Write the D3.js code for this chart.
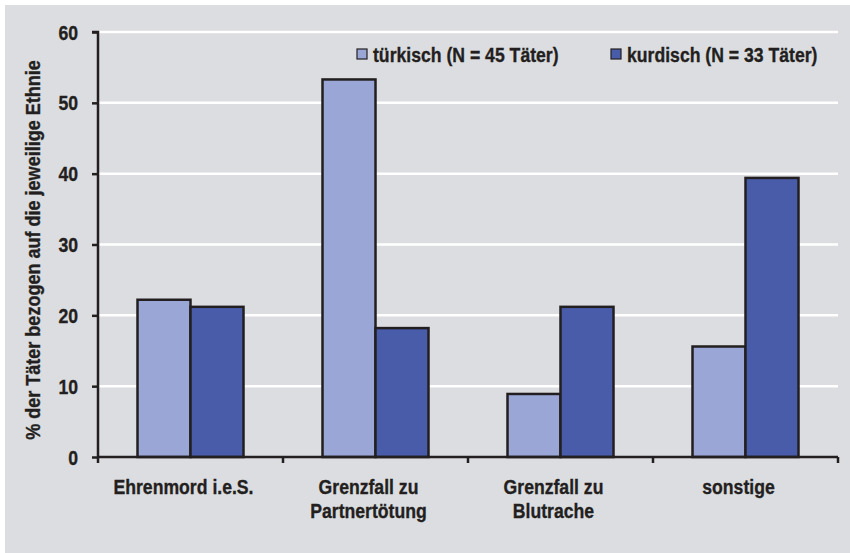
<!DOCTYPE html>
<html><head><meta charset="utf-8">
<script src="https://cdn.jsdelivr.net/npm/d3@7"></script>
<style>
html,body{margin:0;padding:0;background:#fff;}
svg{display:block;}
text{font-family:"Liberation Sans",Arial,sans-serif;font-weight:bold;fill:#231f20;stroke:#231f20;stroke-width:0.35px;}
</style></head>
<body>
<svg id="c" width="850" height="553"></svg>
<script>
const categories = [["Ehrenmord i.e.S."], ["Grenzfall zu", "Partnertötung"], ["Grenzfall zu", "Blutrache"], ["sonstige"]];
const seriesNames = ["türkisch (N = 45 Täter)", "kurdisch (N = 33 Täter)"];
const tuerkisch = [22.2, 53.3, 8.9, 15.6];
const kurdisch = [21.2, 18.2, 21.2, 39.4];
const yTicks = [0, 10, 20, 30, 40, 50, 60];
const colors = ["#99a6d6", "#485ca9"];

const SX = 0.86; // condensed look
const FS = 20.5;

const svg = d3.select("#c");
svg.append("rect").attr("x",5).attr("y",5).attr("width",845).attr("height",548).attr("fill","#dcdde0");

const m = {left:98, right:838, top:32, bottom:457};
const x = d3.scaleBand().domain(d3.range(categories.length)).range([m.left, m.right]).paddingInner(0).paddingOuter(0);
const y = d3.scaleLinear().domain([0,60]).range([m.bottom, m.top]);
const barW = 53;
const xs = d3.scaleBand().domain([0,1]).range([0, 2*barW]);

function ctext(px, py, str, anchor, fs, sx) {
  const g = svg.append("g").attr("transform", `translate(${px},${py}) scale(${sx||SX},1)`);
  return g.append("text").attr("text-anchor", anchor||"start").attr("font-size", fs||FS).text(str);
}

// gridlines
svg.append("g").selectAll("line").data(yTicks.filter(d=>d>0)).join("line")
  .attr("x1", m.left).attr("x2", m.right)
  .attr("y1", d=>y(d)).attr("y2", d=>y(d))
  .attr("stroke","#fff").attr("stroke-width",2.5);

// bars
const series = [tuerkisch, kurdisch];
series.forEach((vals, si) => {
  svg.append("g").selectAll("rect").data(vals).join("rect")
    .attr("x", (d,i)=> x(i) + (x.bandwidth()-2*barW)/2 + xs(si))
    .attr("y", d=>y(d))
    .attr("width", barW)
    .attr("height", d=>y(0)-y(d))
    .attr("fill", colors[si])
    .attr("stroke","#231f20").attr("stroke-width",2.5);
});

// y axis
const ya = svg.append("g").attr("transform",`translate(${m.left},0)`)
  .call(d3.axisLeft(y).tickValues(yTicks).tickSize(6).tickPadding(10));
ya.select(".domain").attr("stroke","#231f20").attr("stroke-width",2.5).attr("d",`M-6,${y(60)}H0V${y(0)}`);
ya.selectAll(".tick line").attr("stroke","#231f20").attr("stroke-width",2.5);
ya.selectAll(".tick text")
  .attr("font-size",FS).attr("fill","#231f20")
  .attr("x", -20/SX).attr("dy", null).attr("y", 7)
  .attr("transform", `scale(${SX},1)`)
  .style("font-family",'"Liberation Sans",Arial,sans-serif').style("font-weight","bold")
  .style("stroke","#231f20").style("stroke-width","0.35px");

// x axis
const xa = svg.append("g").attr("transform",`translate(0,${m.bottom})`);
xa.append("line").attr("x1",m.left).attr("x2",m.right).attr("y1",0).attr("y2",0).attr("stroke","#231f20").attr("stroke-width",2.5);
const bounds = d3.range(categories.length+1).map(i => i<categories.length ? x(i) : x(i-1)+x.bandwidth());
xa.selectAll("line.t").data(bounds).join("line").attr("class","t")
  .attr("x1",d=>d).attr("x2",d=>d).attr("y1",0).attr("y2",6)
  .attr("stroke","#231f20").attr("stroke-width",2.5);
categories.forEach((lines,i) => {
  lines.forEach((l,k)=> ctext(x(i)+x.bandwidth()/2 - 7, 494 + k*24, l, "middle"));
});

// y title
svg.append("g").attr("transform","translate(40,250) rotate(-90) scale(0.88,1)")
  .append("text").attr("text-anchor","middle").attr("font-size",FS)
  .text("% der Täter bezogen auf die jeweilige Ethnie");

// legend
const leg = [{x:357, t:seriesNames[0], c:colors[0]},{x:611, t:seriesNames[1], c:colors[1]}];
leg.forEach(l => {
  svg.append("rect").attr("x",l.x).attr("y",49).attr("width",10).attr("height",10)
    .attr("fill",l.c).attr("stroke","#231f20").attr("stroke-width",1.2);
  ctext(l.x+16, 62, l.t, "start");
});
</script>
</body></html>
